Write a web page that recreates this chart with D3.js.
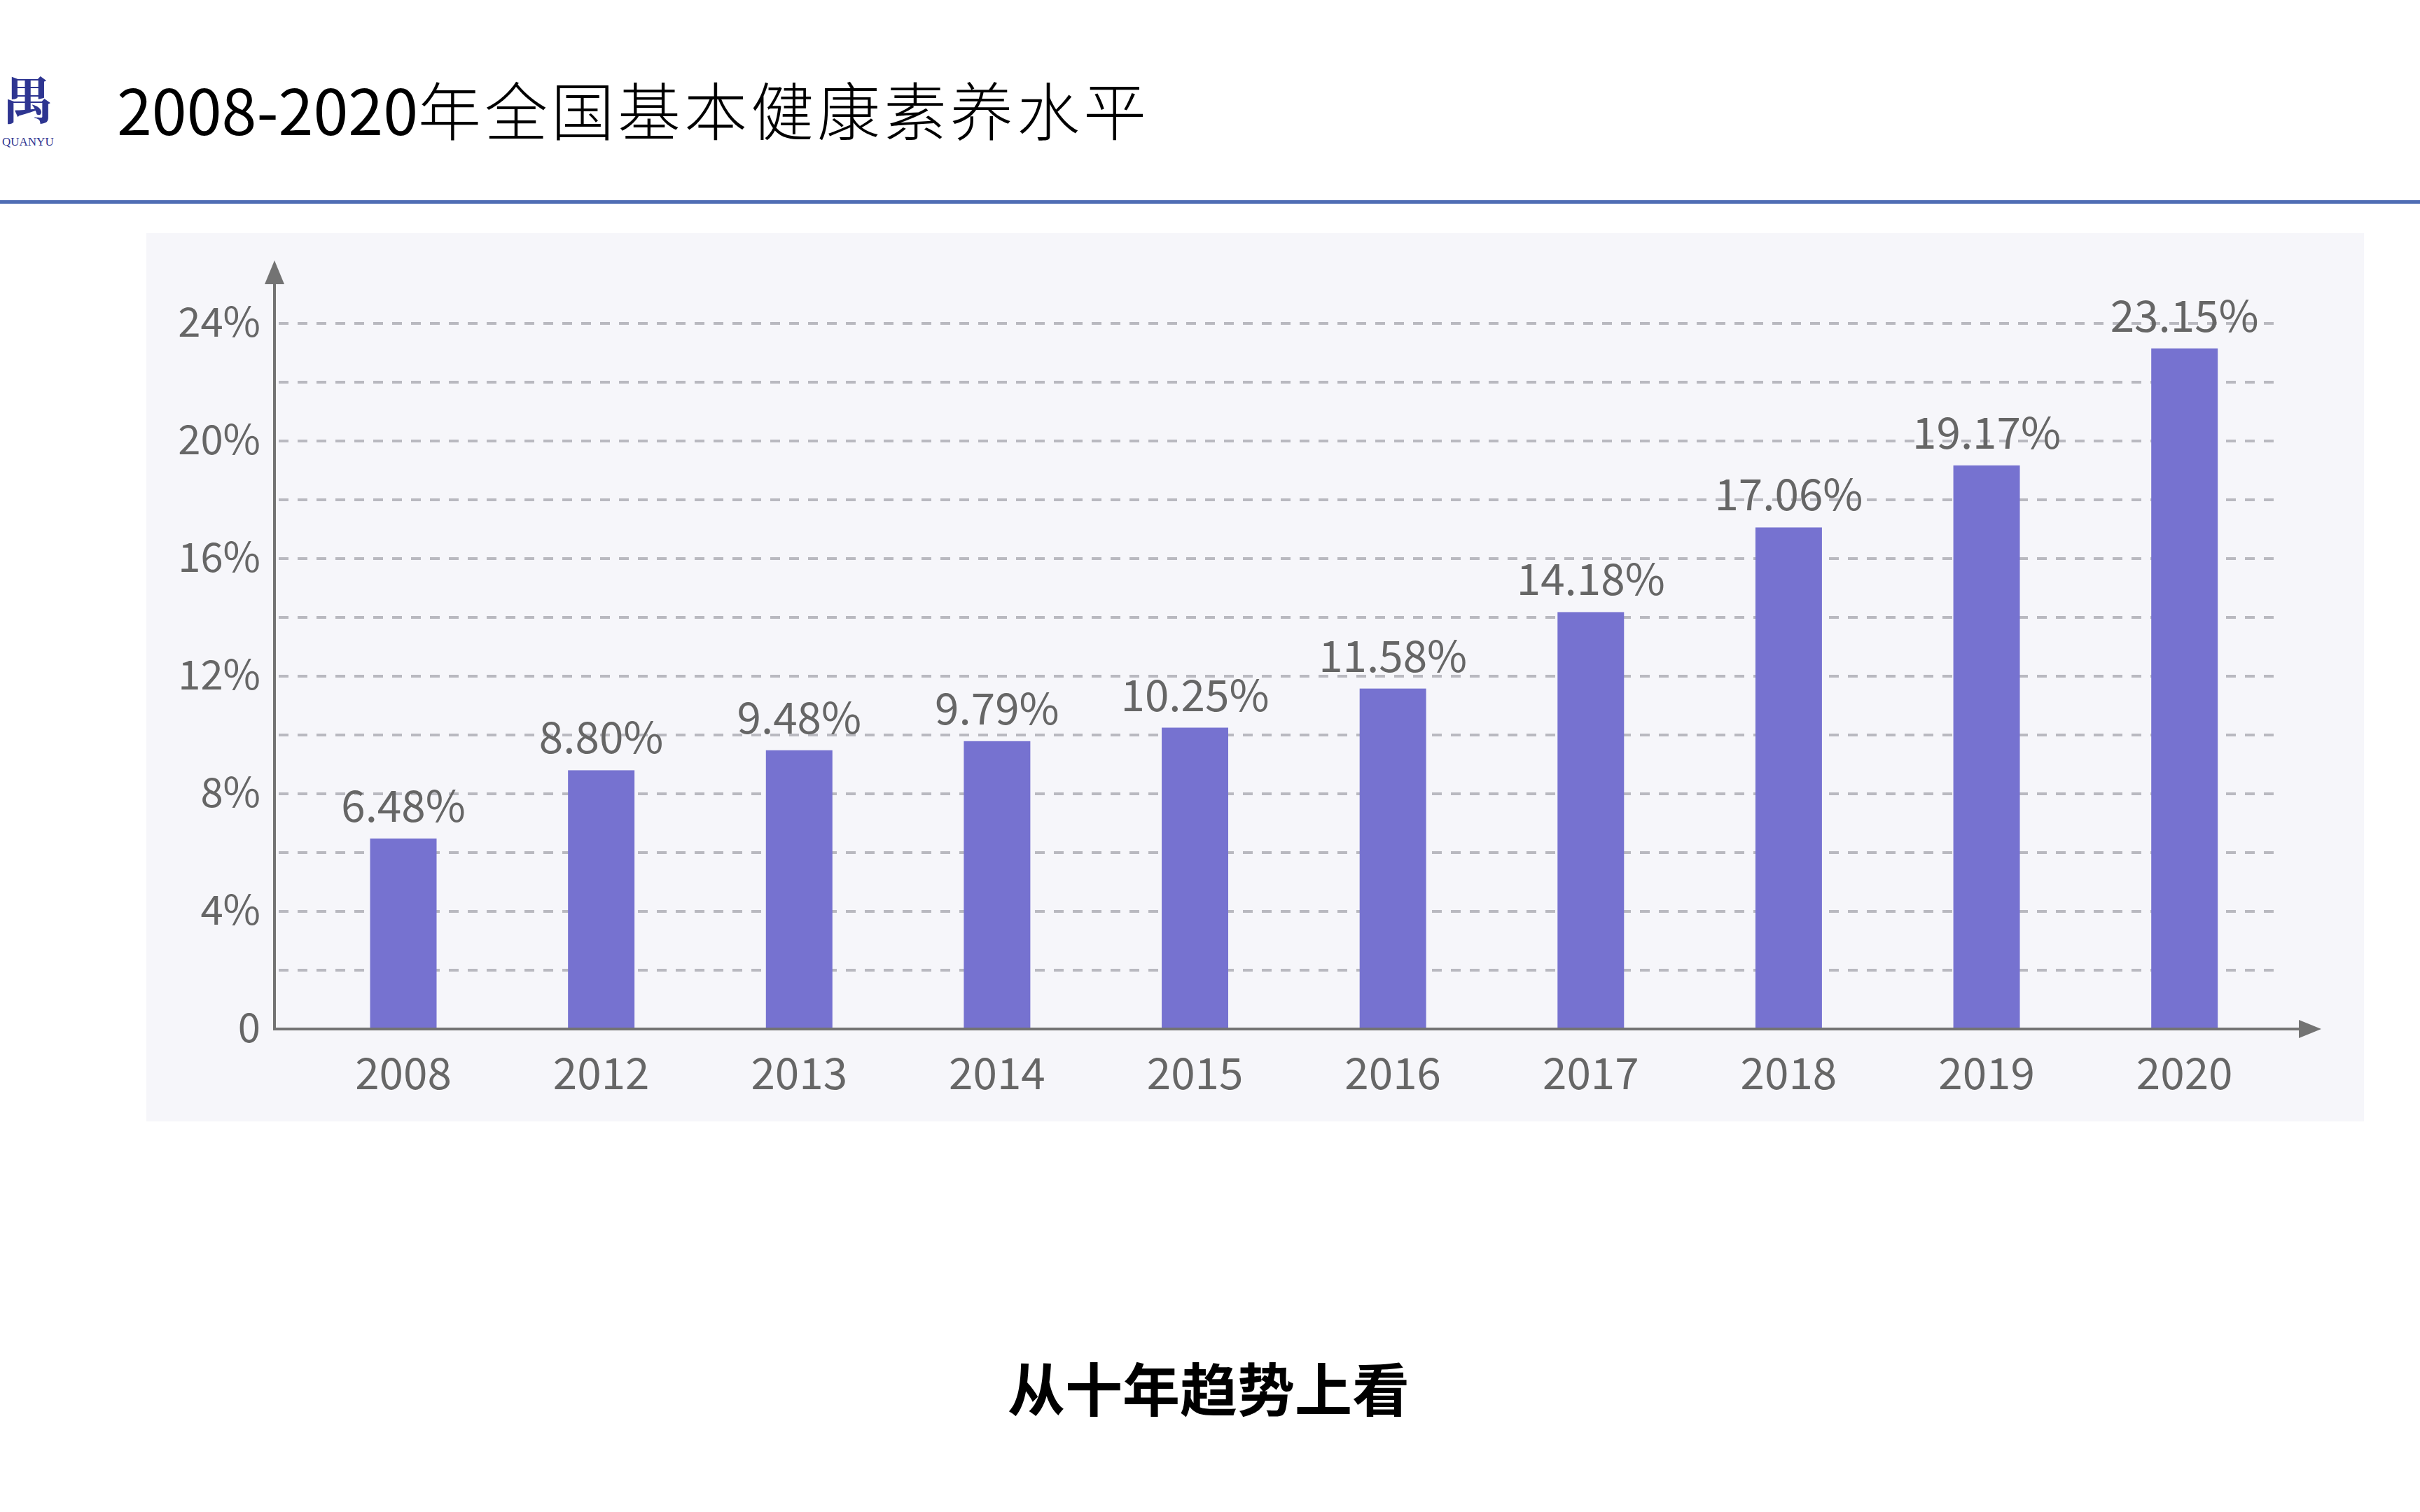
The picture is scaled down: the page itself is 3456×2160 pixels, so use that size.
<!DOCTYPE html>
<html>
<head>
<meta charset="utf-8">
<script src="https://cdn.jsdelivr.net/npm/d3@7"></script>
<style>
  html, body { margin: 0; padding: 0; background: #ffffff; }
  svg { display: block; }
</style>
</head>
<body>
<svg id="chart" width="3456" height="2160"></svg>
<script>
// ---------- data ----------
const years = ["2008", "2012", "2013", "2014", "2015", "2016", "2017", "2018", "2019", "2020"];
const values = [6.48, 8.80, 9.48, 9.79, 10.25, 11.58, 14.18, 17.06, 19.17, 23.15];
const valueLabels = ["6.48%", "8.80%", "9.48%", "9.79%", "10.25%", "11.58%", "14.18%", "17.06%", "19.17%", "23.15%"];
const yTicks = [0, 4, 8, 12, 16, 20, 24];
const yTickLabels = ["0", "4%", "8%", "12%", "16%", "20%", "24%"];
const gridValues = [2, 4, 6, 8, 10, 12, 14, 16, 18, 20, 22, 24];
const titleNum = "2008-2020";
const titleText = "年全国基本健康素养水平";
const subtitle = "从十年趋势上看";

// ---------- drawing ----------
const svg = d3.select("#chart");
const font = "'Noto Sans CJK SC', 'Noto Sans', sans-serif";

// header logo
svg.append("text").attr("x", 4).attr("y", 170)
  .attr("font-family", "'Noto Serif CJK SC', 'Noto Sans CJK SC', serif").attr("font-weight", 700)
  .attr("font-size", 72).attr("fill", "#2e3591").text("禺");
svg.append("text").attr("x", 3).attr("y", 208)
  .attr("font-family", "'Liberation Serif', serif").attr("font-size", 17)
  .attr("fill", "#2e3591").text("QUANYU");

// title
const title = svg.append("text").attr("x", 167).attr("y", 193)
  .attr("font-family", font).attr("fill", "#000");
title.append("tspan").attr("font-size", 90).attr("font-weight", 400)
  .attr("textLength", 430).attr("lengthAdjust", "spacingAndGlyphs").text(titleNum);
title.append("tspan").attr("font-size", 90).attr("font-weight", 300)
  .attr("letter-spacing", 5).text(titleText);

// header rule
svg.append("rect").attr("x", 0).attr("y", 286).attr("width", 3456).attr("height", 5).attr("fill", "#4f6db4");

// chart panel
svg.append("rect").attr("x", 209).attr("y", 333).attr("width", 3167).attr("height", 1269).attr("fill", "#f6f6fa");

const axisX = 392;
const y = d3.scaleLinear().domain([0, 24]).range([1470, 462]);
const x = d3.scaleBand().domain(years).range([434.7, 3261]).paddingInner(0.664).paddingOuter(0.332);

// gridlines
svg.append("g").selectAll("line").data(gridValues).join("line")
  .attr("x1", axisX + 6).attr("x2", 3252)
  .attr("y1", d => y(d)).attr("y2", d => y(d))
  .attr("stroke", "#b9b9c0").attr("stroke-width", 4).attr("stroke-dasharray", "14,13");

// bars
svg.append("g").selectAll("rect").data(values).join("rect")
  .attr("x", (d, i) => x(years[i])).attr("width", x.bandwidth())
  .attr("y", d => y(d)).attr("height", d => y(0) - y(d))
  .attr("fill", "#7672d0");

// value labels
svg.append("g").selectAll("text").data(values).join("text")
  .attr("x", (d, i) => x(years[i]) + x.bandwidth() / 2)
  .attr("y", d => y(d) - 24)
  .attr("text-anchor", "middle").attr("font-family", font).attr("font-size", 62)
  .attr("fill", "#666666").text((d, i) => valueLabels[i]);

// y axis labels
const yAxis = d3.axisLeft(y).tickValues(yTicks).tickSize(0).tickPadding(20)
  .tickFormat((d, i) => yTickLabels[i]);
const gy = svg.append("g").attr("transform", `translate(${axisX},0)`).call(yAxis);
gy.select(".domain").remove();
gy.selectAll("text").attr("font-family", font).attr("font-size", 58).attr("fill", "#666666");

// x axis labels
const xAxis = d3.axisBottom(x).tickSize(0).tickPadding(42);
const gx = svg.append("g").attr("transform", `translate(0,${y(0)})`).call(xAxis);
gx.select(".domain").remove();
gx.selectAll("text").attr("font-family", font).attr("font-size", 62).attr("fill", "#666666");

// axis lines with arrows
const axisColor = "#737373";
const yTop = 372, xEnd = 3315;
svg.append("line").attr("x1", axisX).attr("x2", axisX).attr("y1", y(0) + 2).attr("y2", yTop + 20)
  .attr("stroke", axisColor).attr("stroke-width", 4);
svg.append("path").attr("d", `M${axisX},${yTop} L${axisX - 14},${yTop + 34} L${axisX + 14},${yTop + 34} Z`)
  .attr("fill", axisColor);
svg.append("line").attr("x1", axisX - 2).attr("x2", xEnd - 20).attr("y1", y(0)).attr("y2", y(0))
  .attr("stroke", axisColor).attr("stroke-width", 4);
svg.append("path").attr("d", `M${xEnd},${y(0)} L${xEnd - 32},${y(0) - 13} L${xEnd - 32},${y(0) + 13} Z`)
  .attr("fill", axisColor);

// subtitle
svg.append("text").attr("x", 1726).attr("y", 1980).attr("text-anchor", "middle")
  .attr("dominant-baseline", "central").attr("font-family", font).attr("font-weight", 700)
  .attr("font-size", 82).attr("fill", "#000").text(subtitle);
</script>
</body>
</html>
